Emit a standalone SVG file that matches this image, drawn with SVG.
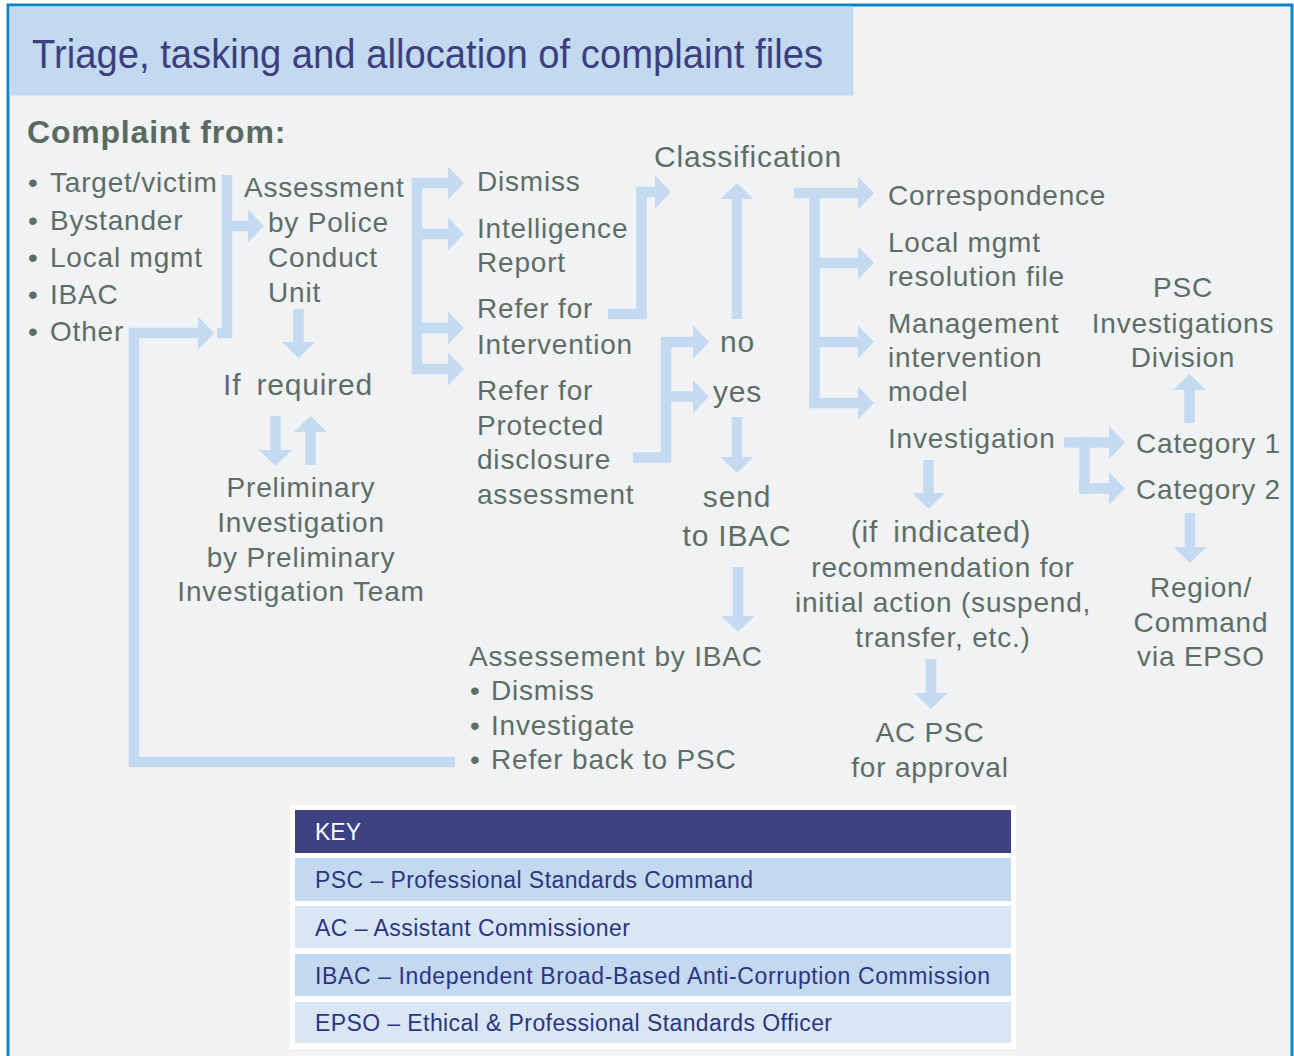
<svg xmlns="http://www.w3.org/2000/svg" width="1294" height="1056" viewBox="0 0 1294 1056">
<defs>
<style>
.t{font-family:"Liberation Sans",Arial,sans-serif;font-size:28px;fill:#5e6e66;letter-spacing:0.8px}
.l{font-size:30px}
.m{text-anchor:middle}
.b{font-weight:bold;font-size:32px;fill:#5a6a62}
.k{font-family:"Liberation Sans",Arial,sans-serif;font-size:23px;fill:#2e3580}
.c{fill:none;stroke:#c3daf0;stroke-width:10.5;stroke-linejoin:miter;stroke-linecap:butt}
.a{marker-end:url(#ah)}
</style>
<marker id="ah" viewBox="0 0 16 33" refX="0" refY="16.5" markerWidth="16" markerHeight="33" markerUnits="userSpaceOnUse" orient="auto">
<path d="M0,0 L16,16.5 L0,33 z" fill="#c3daf0"/>
</marker>
</defs>
<rect x="0" y="0" width="1294" height="1056" fill="#ffffff"/>
<rect x="8" y="5" width="1284" height="1060" fill="#f0f2f4" stroke="#0a86c7" stroke-width="3"/>
<g id="title">
<rect x="9.5" y="6.5" width="844" height="89" fill="#c3d9ef"/>
<text x="32" y="68" font-family="'Liberation Sans',Arial,sans-serif" font-size="40" fill="#3b3f80" textLength="791" lengthAdjust="spacingAndGlyphs">Triage, tasking and allocation of complaint files</text>
</g>

<g id="connectors">
<!-- complaint sources bracket -->
<path class="c" d="M227,175 V333 H217"/>
<path class="c a" d="M227,226 H248"/>
<!-- IBAC refer back loop -->
<path class="c a" d="M455,762 H134 V333 H198"/>
<!-- assessment down -->
<path class="c a" d="M298.5,309 V342"/>
<!-- if required down/up -->
<path class="c a" d="M275.5,416 V450"/>
<path class="c a" d="M310.5,465 V432"/>
<!-- outcomes bracket -->
<path class="c" d="M417,178 V374"/>
<path class="c a" d="M412,183 H448"/>
<path class="c a" d="M417,234 H448"/>
<path class="c a" d="M417,328 H448"/>
<path class="c a" d="M412,369 H448"/>
<!-- refer for intervention to classification -->
<path class="c a" d="M608,314 H641.5 V192 H655"/>
<!-- no to classification -->
<path class="c a" d="M737,319 V199"/>
<!-- protected disclosure to no/yes -->
<path class="c a" d="M633,457.5 H666 V342 H693"/>
<path class="c a" d="M666,396.5 H693"/>
<!-- yes to send -->
<path class="c a" d="M737,417 V457"/>
<!-- send to IBAC assessment -->
<path class="c a" d="M738,567 V616"/>
<!-- classification bracket -->
<path class="c a" d="M794,193 H858"/>
<path class="c" d="M814.5,188 V408"/>
<path class="c a" d="M814.5,263 H858"/>
<path class="c a" d="M814.5,342 H858"/>
<path class="c a" d="M809,403 H858"/>
<!-- investigation to categories -->
<path class="c a" d="M1064,442.5 H1109"/>
<path class="c" d="M1084.5,437 V494"/>
<path class="c a" d="M1079,488.5 H1109"/>
<path class="c a" d="M1189.5,423 V390"/>
<path class="c a" d="M1190,513 V547"/>
<!-- investigation down -->
<path class="c a" d="M928.5,460 V493"/>
<path class="c a" d="M931,659 V693"/>
</g>

<g id="complaint-from">
<text class="t b" x="27" y="143">Complaint from:</text>
<text class="t" x="28" y="192">•</text><text class="t" x="50" y="192">Target/victim</text>
<text class="t" x="28" y="230">•</text><text class="t" x="50" y="230">Bystander</text>
<text class="t" x="28" y="267">•</text><text class="t" x="50" y="267">Local mgmt</text>
<text class="t" x="28" y="304">•</text><text class="t" x="50" y="304">IBAC</text>
<text class="t" x="28" y="341">•</text><text class="t" x="50" y="341">Other</text>
</g>
<g id="assessment-pcu">
<text class="t" x="244" y="197">Assessment</text>
<text class="t" x="268" y="232">by Police</text>
<text class="t" x="268" y="267">Conduct</text>
<text class="t" x="268" y="302">Unit</text>
</g>
<g id="if-required">
<text class="t l" x="223" y="395" word-spacing="6">If required</text>
</g>
<g id="preliminary-investigation">
<text class="t m" x="301" y="497">Preliminary</text>
<text class="t m" x="301" y="532">Investigation</text>
<text class="t m" x="301" y="567">by Preliminary</text>
<text class="t m" x="301" y="601">Investigation Team</text>
</g>
<g id="dismiss"><text class="t" x="477" y="191">Dismiss</text></g>
<g id="intelligence-report">
<text class="t" x="477" y="238">Intelligence</text>
<text class="t" x="477" y="272">Report</text>
</g>
<g id="refer-intervention">
<text class="t" x="477" y="318">Refer for</text>
<text class="t" x="477" y="354">Intervention</text>
</g>
<g id="refer-protected">
<text class="t" x="477" y="400">Refer for</text>
<text class="t" x="477" y="435">Protected</text>
<text class="t" x="477" y="469">disclosure</text>
<text class="t" x="477" y="504">assessment</text>
</g>
<g id="classification"><text class="t l" x="654" y="167">Classification</text></g>
<g id="no"><text class="t l" x="720" y="352">no</text></g>
<g id="yes"><text class="t l" x="713" y="402">yes</text></g>
<g id="send-ibac">
<text class="t l m" x="737" y="507">send</text>
<text class="t l m" x="737" y="546">to IBAC</text>
</g>
<g id="ibac-assessment">
<text class="t" x="469" y="666">Assessement by IBAC</text>
<text class="t" x="470" y="700">•</text><text class="t" x="491" y="700">Dismiss</text>
<text class="t" x="470" y="735">•</text><text class="t" x="491" y="735">Investigate</text>
<text class="t" x="470" y="769">•</text><text class="t" x="491" y="769">Refer back to PSC</text>
</g>
<g id="correspondence"><text class="t" x="888" y="205">Correspondence</text></g>
<g id="local-mgmt">
<text class="t" x="888" y="252">Local mgmt</text>
<text class="t" x="888" y="286">resolution file</text>
</g>
<g id="management-intervention">
<text class="t" x="888" y="333">Management</text>
<text class="t" x="888" y="367">intervention</text>
<text class="t" x="888" y="401">model</text>
</g>
<g id="investigation"><text class="t" x="888" y="448">Investigation</text></g>
<g id="category-1"><text class="t" x="1136" y="453">Category 1</text></g>
<g id="category-2"><text class="t" x="1136" y="499">Category 2</text></g>
<g id="psc-investigations">
<text class="t m" x="1183" y="297">PSC</text>
<text class="t m" x="1183" y="333">Investigations</text>
<text class="t m" x="1183" y="367">Division</text>
</g>
<g id="region-command">
<text class="t m" x="1201" y="597">Region/</text>
<text class="t m" x="1201" y="632">Command</text>
<text class="t m" x="1201" y="666">via EPSO</text>
</g>
<g id="recommendation">
<text class="t l m" x="941" y="542" word-spacing="6">(if indicated)</text>
<text class="t m" x="943" y="577">recommendation for</text>
<text class="t m" x="943" y="612">initial action (suspend,</text>
<text class="t m" x="943" y="647">transfer, etc.)</text>
</g>
<g id="ac-psc">
<text class="t m" x="930" y="742">AC PSC</text>
<text class="t m" x="930" y="777">for approval</text>
</g>

<g id="key">
<rect x="290" y="805" width="726" height="244" fill="#ffffff"/>
<rect x="295" y="810" width="716" height="43" fill="#3e4282"/>
<text class="k" x="315" y="840" fill="#ffffff" style="fill:#ffffff">KEY</text>
<rect x="295" y="858" width="716" height="43" fill="#c3d9ef"/>
<text class="k" x="315" y="888" textLength="438">PSC – Professional Standards Command</text>
<rect x="295" y="906" width="716" height="42" fill="#d9e7f5"/>
<text class="k" x="315" y="936" textLength="315">AC – Assistant Commissioner</text>
<rect x="295" y="954" width="716" height="42" fill="#c3d9ef"/>
<text class="k" x="315" y="984" textLength="675">IBAC – Independent Broad-Based Anti-Corruption Commission</text>
<rect x="295" y="1002" width="716" height="41" fill="#d9e7f5"/>
<text class="k" x="315" y="1031" textLength="517">EPSO – Ethical &amp; Professional Standards Officer</text>
</g>
</svg>
